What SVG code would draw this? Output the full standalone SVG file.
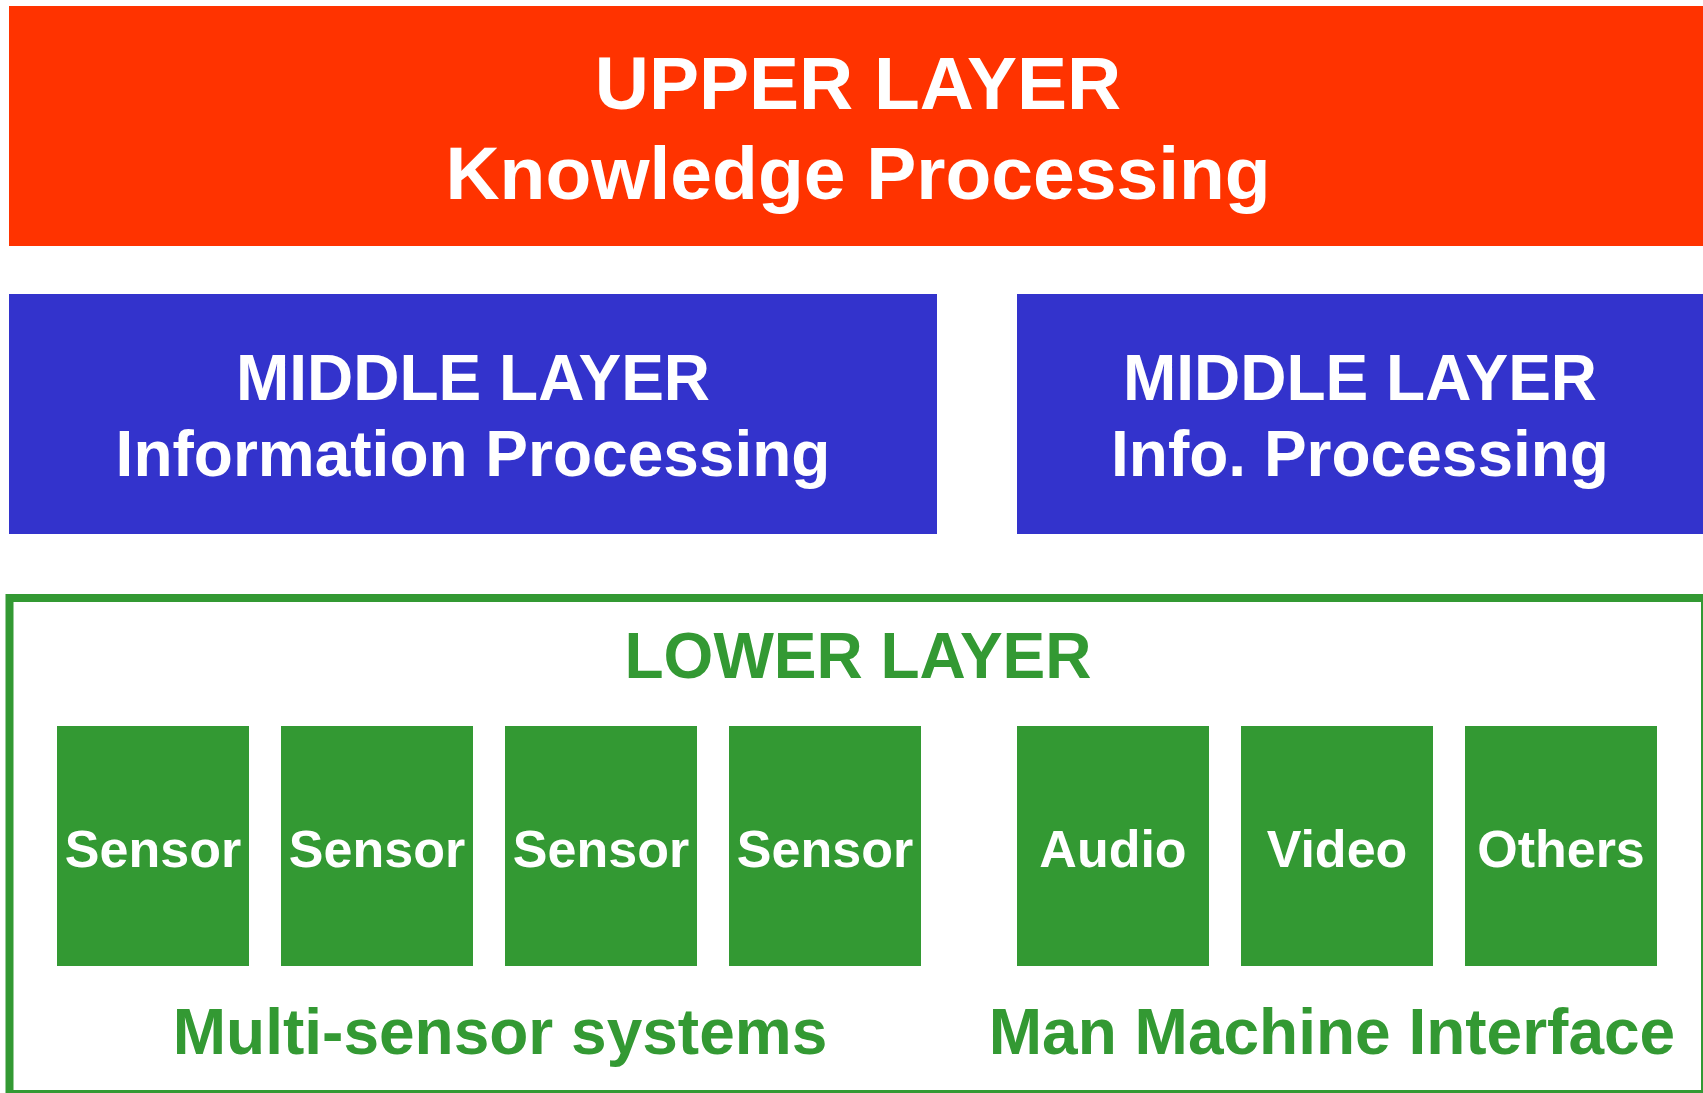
<svg xmlns="http://www.w3.org/2000/svg" width="1703" height="1093" viewBox="0 0 1703 1093">
<style>
text{font-family:"Liberation Sans",Arial,sans-serif;font-weight:bold;text-anchor:middle}
.w{fill:#ffffff}
.g{fill:#339933}
.box{fill:#339933}
.lbl{font-size:52px}
.big{font-size:64px}
.top{font-size:75px}
</style>
<rect width="1703" height="1093" fill="#ffffff"/>
<g id="upper">
<rect x="9" y="6" width="1694" height="240" fill="#ff3300"/>
<text class="w top" x="858" y="109">UPPER LAYER</text>
<text class="w top" x="858" y="199">Knowledge Processing</text>
</g>
<g id="middle-left">
<rect x="9" y="294" width="928" height="240" fill="#3333cc"/>
<text class="w big" x="473" y="400">MIDDLE LAYER</text>
<text class="w big" x="473" y="476">Information Processing</text>
</g>
<g id="middle-right">
<rect x="1017" y="294" width="686" height="240" fill="#3333cc"/>
<text class="w big" x="1360" y="400">MIDDLE LAYER</text>
<text class="w big" x="1360" y="476">Info. Processing</text>
</g>
<g id="lower">
<rect x="9.5" y="598" width="1695.5" height="496" fill="none" stroke="#339933" stroke-width="8"/>
<text class="g big" x="858" y="678">LOWER LAYER</text>
<text class="g big" x="500" y="1054">Multi-sensor systems</text>
<text class="g big" x="1332" y="1054">Man Machine Interface</text>
</g>
<g id="sensor1"><rect class="box" x="57" y="726" width="192" height="240"/><text class="w lbl" x="153" y="867">Sensor</text></g>
<g id="sensor2"><rect class="box" x="281" y="726" width="192" height="240"/><text class="w lbl" x="377" y="867">Sensor</text></g>
<g id="sensor3"><rect class="box" x="505" y="726" width="192" height="240"/><text class="w lbl" x="601" y="867">Sensor</text></g>
<g id="sensor4"><rect class="box" x="729" y="726" width="192" height="240"/><text class="w lbl" x="825" y="867">Sensor</text></g>
<g id="audio"><rect class="box" x="1017" y="726" width="192" height="240"/><text class="w lbl" x="1113" y="867">Audio</text></g>
<g id="video"><rect class="box" x="1241" y="726" width="192" height="240"/><text class="w lbl" x="1337" y="867">Video</text></g>
<g id="others"><rect class="box" x="1465" y="726" width="192" height="240"/><text class="w lbl" x="1561" y="867">Others</text></g>
<g id="connectors"></g>
</svg>
